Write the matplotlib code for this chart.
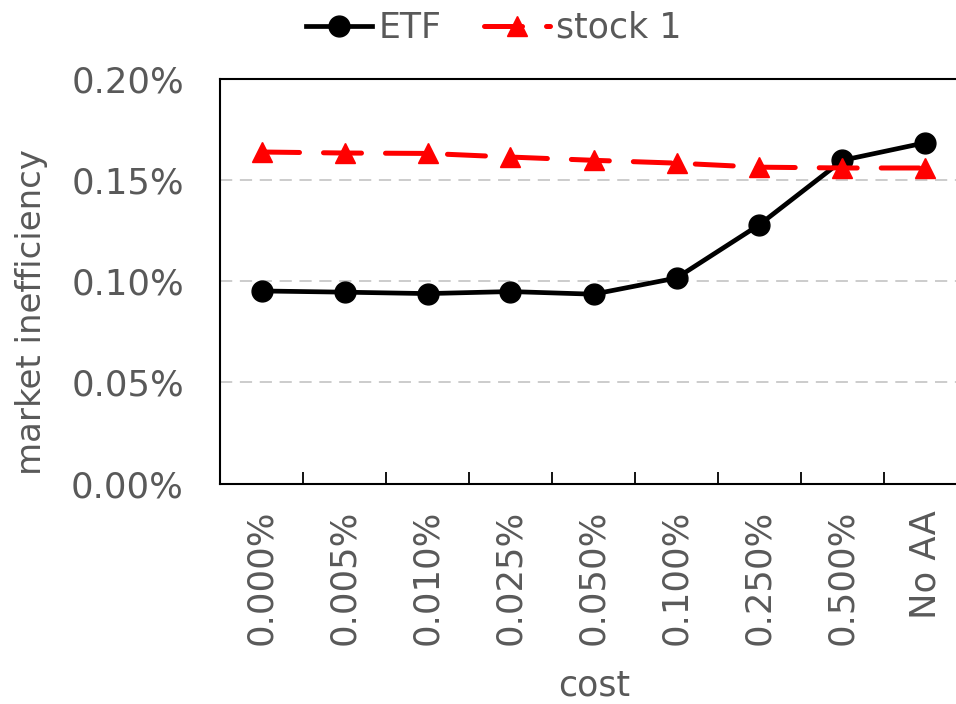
import matplotlib
matplotlib.use("Agg")
import matplotlib.pyplot as plt
from matplotlib.ticker import FixedLocator, FuncFormatter

plt.rcParams["font.family"] = ["DejaVu Sans"]

# cost levels on the x axis
costs = ["0.000%", "0.005%", "0.010%", "0.025%", "0.050%",
         "0.100%", "0.250%", "0.500%", "No AA"]

# market inefficiency, in percent
etf = [0.0952, 0.0946, 0.0939, 0.0949, 0.0936, 0.1016, 0.1280, 0.1598, 0.1685]
stock1 = [0.1639, 0.1634, 0.1632, 0.1614, 0.1598, 0.1584, 0.1564, 0.1560, 0.1560]

TEXT = "#595959"
W, H = 956, 704

fig = plt.figure(figsize=(W / 100, H / 100), dpi=100)
# plot area runs past the right edge of the picture, like the source
ax = fig.add_axes([220 / W, 1 - 483.5 / H, 747 / W, 404.5 / H])

x = list(range(len(costs)))
ax.plot(x, etf, color="black", lw=3.4, marker="o", ms=15,
        solid_joinstyle="round", label="ETF", zorder=3)
ax.plot(x, stock1, color="#FF0000", lw=3.6, marker="^", ms=15,
        dashes=(7.6, 4.8), dash_capstyle="round", label="stock 1", zorder=4)

ax.set_xlim(-0.5, len(costs) - 0.5)
ax.set_ylim(0, 0.20)

ax.set_yticks([0, 0.05, 0.10, 0.15, 0.20])
ax.yaxis.set_major_formatter(FuncFormatter(lambda v, _: f"{v:.2f}%"))
ax.tick_params(axis="y", length=0, pad=26, labelsize=25.5, labelcolor=TEXT)

ax.set_xticks(x)
ax.set_xticklabels(costs, rotation=90)
ax.xaxis.set_minor_locator(FixedLocator([i + 0.5 for i in x]))
ax.tick_params(axis="x", which="major", length=0, pad=19, labelsize=25.5,
               labelcolor=TEXT)
ax.tick_params(axis="x", which="minor", direction="in", length=8.5,
               width=1.3, color="black")

for v in [0.05, 0.10, 0.15]:
    ax.axhline(v, color="#BFBFBF", lw=1.1, dashes=(8, 5), zorder=1)

for side in ["left", "bottom", "top"]:
    ax.spines[side].set_linewidth(1.5)
    ax.spines[side].set_color("black")
ax.spines["right"].set_visible(False)

fig.text(32 / W, 1 - 312 / H, "market inefficiency", rotation=90,
         ha="center", va="center", fontsize=24.5, color=TEXT)
fig.text(594 / W, 1 - 685 / H, "cost", ha="center", va="center",
         fontsize=25, color=TEXT)

fig.legend(loc="center", bbox_to_anchor=(494 / W, 1 - 28 / H), ncol=2,
           frameon=False, fontsize=25, labelcolor=TEXT, handlelength=1.9,
           handletextpad=0.2, columnspacing=1.2, borderaxespad=0)

fig.savefig("out.png", dpi=100)
